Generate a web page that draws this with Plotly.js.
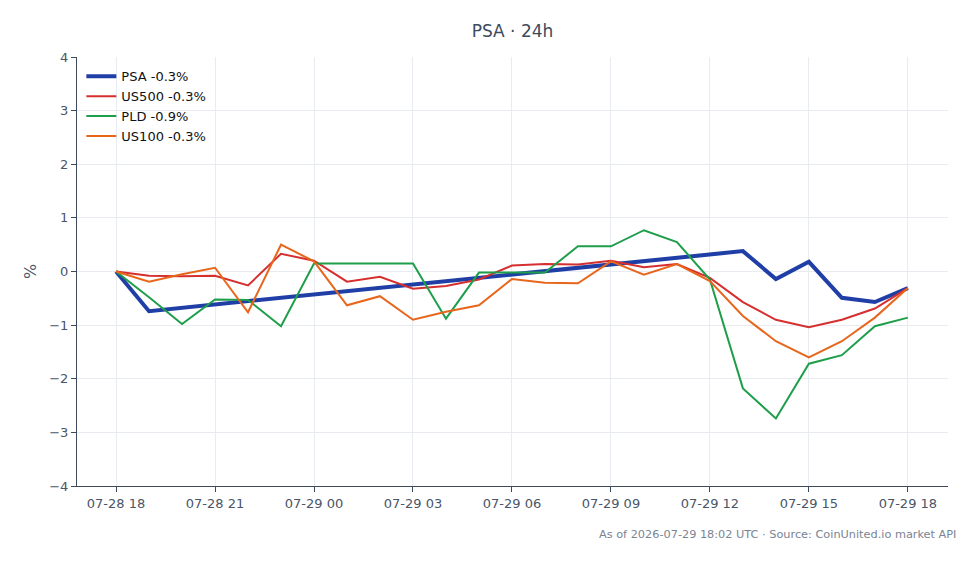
<!DOCTYPE html>
<html>
<head>
<meta charset="utf-8">
<script src="https://cdn.plot.ly/plotly-3.0.1.min.js"></script>
<style>html,body{margin:0;padding:0;background:#fff;}#chart{width:980px;height:564px;}</style>
</head>
<body>
<div id="chart"></div>
<script>
const times = [
  "2026-07-28 18:00","2026-07-28 19:00","2026-07-28 20:00","2026-07-28 21:00","2026-07-28 22:00",
  "2026-07-28 23:00","2026-07-29 00:00","2026-07-29 01:00","2026-07-29 02:00","2026-07-29 03:00",
  "2026-07-29 04:00","2026-07-29 05:00","2026-07-29 06:00","2026-07-29 07:00","2026-07-29 08:00",
  "2026-07-29 09:00","2026-07-29 10:00","2026-07-29 11:00","2026-07-29 12:00","2026-07-29 13:00",
  "2026-07-29 14:00","2026-07-29 15:00","2026-07-29 16:00","2026-07-29 17:00","2026-07-29 18:00"
];
const psa   = [0, -0.74, null, null, null, null, null, null, null, null, null, null, null, null, null, null, null, null, null, 0.38, -0.14, 0.18, -0.49, -0.57, -0.31];
const us500 = [0, -0.08, -0.09, -0.08, -0.26, 0.33, 0.2, -0.19, -0.1, -0.32, -0.27, -0.15, 0.11, 0.14, 0.13, 0.2, 0.08, 0.14, -0.12, -0.57, -0.9, -1.04, -0.9, -0.69, -0.31];
const pld   = [0, -0.48, -0.98, -0.52, -0.53, -1.02, 0.15, 0.15, 0.15, 0.15, -0.88, -0.02, -0.02, -0.02, 0.47, 0.47, 0.77, 0.55, -0.15, -2.18, -2.74, -1.72, -1.56, -1.02, -0.86];
const us100 = [0, -0.19, -0.05, 0.07, -0.76, 0.5, 0.19, -0.63, -0.46, -0.9, -0.75, -0.63, -0.14, -0.21, -0.22, 0.19, -0.06, 0.14, -0.18, -0.83, -1.3, -1.6, -1.3, -0.86, -0.31];
const names = ["PSA -0.3%", "US500 -0.3%", "PLD -0.9%", "US100 -0.3%"];
const yTicks = [-4, -3, -2, -1, 0, 1, 2, 3, 4];

const colors = ["#1f3fa6", "#d62f2f", "#1e9e4a", "#e8661c"];
const widths = [4, 2, 2, 2];
const series = [psa, us500, pld, us100];

const traces = series.map((s, i) => ({
  x: times, y: s, name: names[i], type: "scatter", mode: "lines",
  connectgaps: true,
  line: {color: colors[i], width: widths[i]}
}));

const layout = {
  width: 980, height: 564,
  margin: {l: 77, r: 32, t: 57, b: 78},
  paper_bgcolor: "#fff", plot_bgcolor: "#fff",
  font: {family: "DejaVu Sans, sans-serif", size: 13, color: "#4a5568"},
  title: {text: "PSA · 24h", x: 0.5, xref: "paper", y: 0.956, yref: "container", font: {size: 17, color: "#3d4a5c"}},
  showlegend: true,
  legend: {x: 0.005, y: 0.99, xanchor: "left", yanchor: "top", bgcolor: "rgba(0,0,0,0)", font: {size: 13, color: "#111"}, tracegroupgap: 0},
  xaxis: {
    type: "date",
    range: ["2026-07-28 16:49", "2026-07-29 19:13"],
    tickformat: "%m-%d %H",
    dtick: 3 * 3600 * 1000,
    tick0: "2026-07-28 18:00",
    ticks: "outside", ticklen: 5, tickcolor: "#3d4a5c",
    showline: true, linecolor: "#3d4a5c", linewidth: 1,
    showgrid: true, gridcolor: "#e8ebf0",
    zeroline: false
  },
  yaxis: {
    range: [-4, 4],
    tickvals: yTicks,
    ticks: "outside", ticklen: 5, tickcolor: "#3d4a5c",
    showline: true, linecolor: "#3d4a5c", linewidth: 1,
    showgrid: true, gridcolor: "#e8ebf0",
    zeroline: false,
    title: {text: "%", standoff: 8}
  },
  shapes: [{
    type: "line", xref: "paper", x0: 0, x1: 1, yref: "y", y0: 0, y1: 0,
    line: {color: "#8a96aa", width: 1, dash: "dash"}, layer: "below"
  }],
  annotations: [{
    text: "As of 2026-07-29 18:02 UTC · Source: CoinUnited.io market API",
    xref: "paper", yref: "paper", x: 1.011, y: -0.112, xanchor: "right", yanchor: "middle",
    showarrow: false, font: {size: 11.3, color: "#7a8494"}
  }]
};

Plotly.newPlot("chart", traces, layout, {displayModeBar: false, staticPlot: true});
</script>
</body>
</html>
